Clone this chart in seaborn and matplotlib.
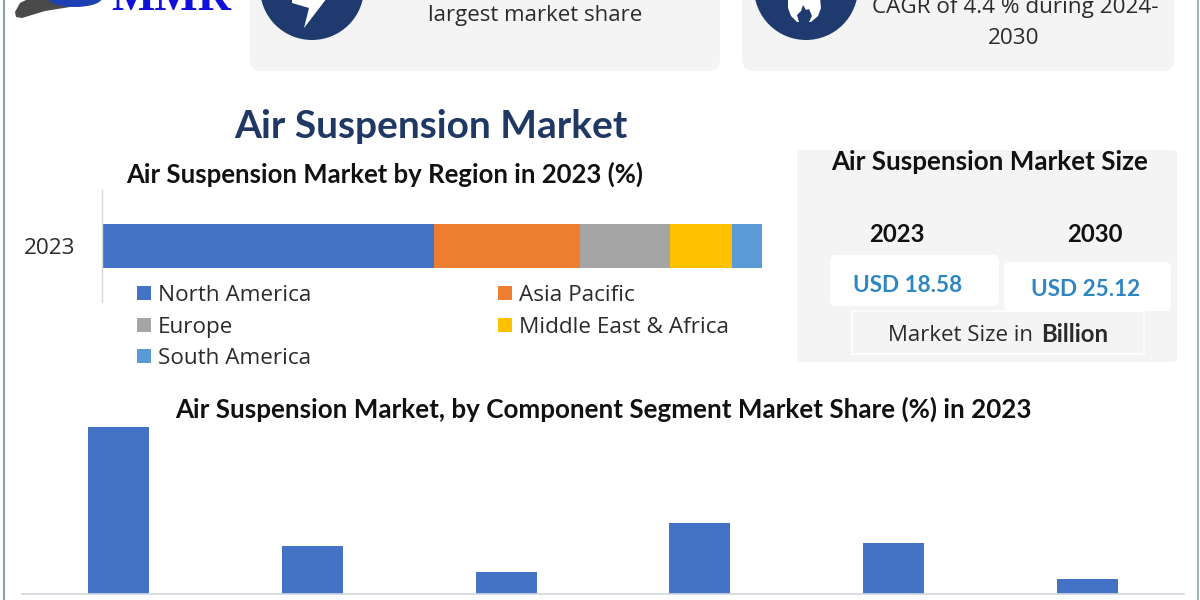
import numpy as np
import pandas as pd
import matplotlib
matplotlib.use("Agg")
import matplotlib.pyplot as plt
from matplotlib.patches import FancyBboxPatch, Circle, Polygon, Ellipse, Rectangle
import seaborn as sns

regions = ["North America", "Asia Pacific", "Europe", "Middle East & Africa", "South America"]
region_share = [50.3, 22.1, 13.6, 9.4, 4.6]
region_colors = ["#4472C4", "#ED7D31", "#A5A5A5", "#FFC000", "#5B9BD5"]
year_label = ["2023"]

component_slots = ["A", "B", "C", "D", "E", "F"]
component_share = [44.6, 12.8, 5.9, 19.0, 13.6, 4.1]

sns.set_theme(style="white")
plt.rcParams["font.family"] = ["Open Sans", "DejaVu Sans"]
LATO = ["Lato", "DejaVu Sans"]

fig = plt.figure(figsize=(12, 6), dpi=100, facecolor="white")
W, H = 1200, 600


def axes_px(x0, y0, x1, y1, **kw):
    return fig.add_axes([x0 / W, 1 - y1 / H, (x1 - x0) / W, (y1 - y0) / H], **kw)


bg = axes_px(0, 0, W, H)
bg.set_xlim(0, W)
bg.set_ylim(H, 0)
bg.axis("off")
bg.set_zorder(3)
bg.patch.set_alpha(0)

PANEL = "#F4F4F4"
NAVY = "#1F3A6E"
DARK = "#2B2B2B"


def panel(x0, y0, x1, y1, color=PANEL, r=12, ec="none", lw=0):
    bg.add_patch(FancyBboxPatch((x0 + r, y0 + r), x1 - x0 - 2 * r, y1 - y0 - 2 * r,
                                boxstyle=f"round,pad={r},rounding_size={r}",
                                fc=color, ec=ec, lw=lw))


bg.plot([3.5, 3.5], [0, 600], color="#8FA6A8", lw=1.6)
bg.plot([1197.5, 1197.5], [0, 600], color="#8FA6A8", lw=1.2)

panel(250, -30, 720, 71)
panel(742, -30, 1174, 71)
bg.add_patch(Circle((312, -12), 52, fc=NAVY, ec="none"))
bg.add_patch(Circle((806, -12), 52, fc=NAVY, ec="none"))
bg.add_patch(Polygon([[292, -2], [327, -2], [304, 28], [309, 8], [292, 3]],
                     closed=True, fc="white", ec="none"))
bg.add_patch(Polygon([[788, -2], [820, -2], [821, 8], [818, 16], [811, 22], [797, 22], [791, 16], [788, 8]],
                     closed=True, fc="white", ec="none"))
bg.add_patch(Polygon([[803, 5], [806, 10], [809, 9], [812, 16], [809, 22], [799, 22], [797, 15], [801, 11]],
                     closed=True, fc=NAVY, ec="none"))
bg.text(535, 16, "largest market share", ha="center", va="center", fontsize=16, color=DARK)
bg.text(1015, 8, "CAGR of 4.4 % during 2024-", ha="center", va="center", fontsize=16.2, color=DARK)
bg.text(1014, 39, "2030", ha="center", va="center", fontsize=16.2, color=DARK)

bg.add_patch(Polygon([[15, 12], [20, 3], [30, -2], [60, -2], [70, 7], [45, 11], [22, 18], [16, 17]],
                     closed=True, fc="#4A4A4A", ec="none"))
bg.add_patch(Ellipse((75, -2), 54, 18, fc="#1F3FB4", ec="none"))
bg.text(171, 10, "MMR", ha="center", va="baseline", fontsize=33, fontweight="bold",
        family=["Liberation Serif", "DejaVu Serif"], color="#1010D8")

bg.text(431, 124, "Air Suspension Market", ha="center", va="center_baseline", fontsize=28,
        fontweight="bold", family=LATO, color="#1F3864")
bg.text(385, 172, "Air Suspension Market by Region in 2023 (%)", ha="center", va="center_baseline",
        fontsize=18.5, fontweight="bold", family=LATO, color="#111111")
bg.text(603.5, 407, "Air Suspension Market, by Component Segment Market Share (%) in 2023",
        ha="center", va="center_baseline", fontsize=18.7, fontweight="bold", family=LATO, color="#111111")

panel(797, 150, 1177, 362, r=4)
bg.text(990, 160, "Air Suspension Market Size", ha="center", va="center_baseline", fontsize=18.7,
        fontweight="bold", family=LATO, color="#111111")
bg.text(897, 233, "2023", ha="center", va="center_baseline", fontsize=17.2, fontweight="bold", family=LATO, color="#111111")
bg.text(1095, 233, "2030", ha="center", va="center_baseline", fontsize=17.2, fontweight="bold", family=LATO, color="#111111")
panel(830, 255, 999, 306, color="white", r=6)
panel(1004, 262, 1171, 311, color="white", r=6)
bg.text(907.5, 284, "USD 18.58", ha="center", va="center_baseline", fontsize=16.2, fontweight="bold", family=LATO, color="#2E86C1")
bg.text(1086, 288, "USD 25.12", ha="center", va="center_baseline", fontsize=16.2, fontweight="bold", family=LATO, color="#2E86C1")
bg.add_patch(Rectangle((852, 311), 292, 43, fc="none", ec="white", lw=1.2))
bg.text(1033, 333, "Market Size in", ha="right", va="center_baseline", fontsize=16, color=DARK)
bg.text(1041, 333, "Billion", ha="left", va="center_baseline", fontsize=17.3, fontweight="bold", family=LATO, color=DARK)

ax1 = axes_px(102, 190, 762, 302)
ax1.patch.set_alpha(0)
ax1.set_zorder(2)
cum = np.cumsum(region_share)
for name, end, col in reversed(list(zip(regions, cum, region_colors))):
    sns.barplot(data=pd.DataFrame({"share": [end], "year": year_label}), x="share", y="year",
                color=col, saturation=1, width=0.384, orient="h", ax=ax1, label=name, linewidth=0)
ax1.set_xlim(0, cum[-1])
ax1.set_ylim(0.5, -0.5)
ax1.set_xlabel("")
ax1.set_ylabel("")
ax1.set_xticks([])
ax1.tick_params(axis="y", length=0, labelsize=16.2, labelcolor=DARK, pad=19)
for s in ["top", "right", "bottom"]:
    ax1.spines[s].set_visible(False)
ax1.spines["left"].set_color("#D9D9D9")
ax1.spines["left"].set_linewidth(1)
if ax1.get_legend():
    ax1.get_legend().remove()

legend_pos = [(137, 293), (498, 293), (137, 325), (498, 325), (137, 356)]
for name, col, (lx, ly) in zip(regions, region_colors, legend_pos):
    bg.add_patch(Rectangle((lx, ly - 7), 14, 14, fc=col, ec="none"))
    bg.text(lx + 21, ly, name, ha="left", va="center_baseline", fontsize=16.2, color=DARK)

ax2 = axes_px(22, 427, 1184, 594)
ax2.patch.set_alpha(0)
ax2.set_zorder(2)
sns.barplot(x=component_slots, y=component_share, color="#4472C4", saturation=1,
            width=0.315, ax=ax2, linewidth=0)
ax2.set_xlim(-0.5, 5.5)
ax2.set_ylim(0, max(component_share))
ax2.set_xticks([])
ax2.set_yticks([])
ax2.set_xlabel("")
ax2.set_ylabel("")
for s in ["top", "right", "left"]:
    ax2.spines[s].set_visible(False)
ax2.spines["bottom"].set_color("#D0D7DE")
ax2.spines["bottom"].set_linewidth(1.2)

fig.savefig("out.png", dpi=100, facecolor="white")
